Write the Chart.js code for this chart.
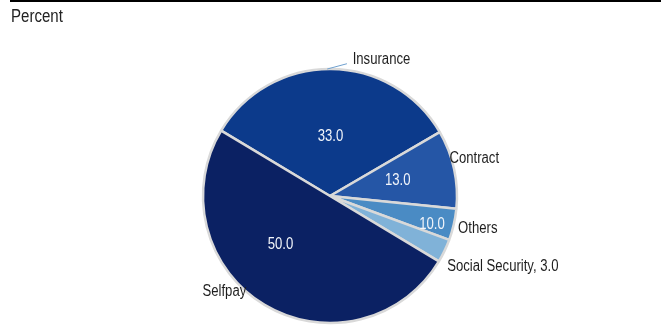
<!DOCTYPE html>
<html>
<head>
<meta charset="utf-8">
<script src="https://cdn.jsdelivr.net/npm/chart.js@4.4.1/dist/chart.umd.min.js"></script>
<style>
  html, body { margin: 0; padding: 0; background: #fff; }
  #wrap { position: relative; width: 661px; height: 327px; overflow: hidden; }
  #rule { position: absolute; left: 10px; top: 0; width: 651px; height: 0; border-top: 2.5px solid #000; }
  #unit { position: absolute; left: 11px; top: 6px; font: 17.5px "Liberation Sans", Arial, sans-serif; color: #222;
          transform: scaleX(0.86); transform-origin: 0 0; white-space: nowrap; }
  canvas { position: absolute; left: 0; top: 0; }
</style>
</head>
<body>
<div id="wrap">
  <canvas id="c" width="661" height="327"></canvas>
  <div id="rule"></div>
  <div id="unit">Percent</div>
</div>
<script>
// Categories in clockwise drawing order
const categories = ["Insurance", "Contract", "Others", "Social Security", "Selfpay"];
// Slice shares as measured from the slice angles in the picture
const sliceShares = [33, 10, 4, 3, 50];
// Values printed on the chart's data labels
const printedValues = [33.0, 13.0, 10.0, 3.0, 50.0];
const sliceColors = ["#0c3a8b", "#2556a6", "#4a8bc4", "#80b2d8", "#0b2163"];

// Label placement (fraction of slice angle, fraction of radius)
const innerPlace = [
  { f: 0.50, r: 0.48 },
  { f: 0.45, r: 0.55 },
  { f: 0.62, r: 0.83 },
  null,
  { f: 0.585, r: 0.54 }
];
const outerPlace = [
  { f: 0.576, r: 1.09, align: "left", text: (i) => categories[i] },
  { f: 0.36, r: 0.985, align: "left", text: (i) => categories[i] },
  { f: 0.58, r: 1.04, align: "left", text: (i) => categories[i] },
  { f: 0.99, r: 1.075, align: "left", text: (i) => categories[i] + ", " + printedValues[i].toFixed(1) },
  { f: 0.557, r: 1.0, align: "right", text: (i) => categories[i] }
];
const leader = { index: 0, from: { f: 0.486, r: 1.0 }, to: { f: 0.558, r: 1.05 } };

const FONT = '16px "Liberation Sans", Arial, sans-serif';
const SQUEEZE = 0.82;

function polar(arc, f, rf) {
  const a = arc.startAngle + f * (arc.endAngle - arc.startAngle);
  const r = arc.outerRadius * rf;
  return { x: arc.x + r * Math.cos(a), y: arc.y + r * Math.sin(a) };
}

function narrowText(ctx, text, x, y, align, color) {
  ctx.save();
  ctx.translate(x, y);
  ctx.scale(SQUEEZE, 1);
  ctx.font = FONT;
  ctx.fillStyle = color;
  ctx.textAlign = align;
  ctx.textBaseline = "middle";
  ctx.fillText(text, 0, 0);
  ctx.restore();
}

const labelPlugin = {
  id: "pieLabels",
  afterDatasetsDraw(chart) {
    const ctx = chart.ctx;
    const meta = chart.getDatasetMeta(0);
    meta.data.forEach((el, i) => {
      const arc = el.getProps(["x", "y", "startAngle", "endAngle", "outerRadius"], true);
      const ip = innerPlace[i];
      if (ip) {
        const p = polar(arc, ip.f, ip.r);
        narrowText(ctx, printedValues[i].toFixed(1), p.x, p.y + 1.5, "center", "#f2f5fa");
      }
      const op = outerPlace[i];
      if (op) {
        const p = polar(arc, op.f, op.r);
        narrowText(ctx, op.text(i), p.x, p.y, op.align, "#1e1e1e");
      }
      if (leader.index === i) {
        const a = polar(arc, leader.from.f, leader.from.r);
        const b = polar(arc, leader.to.f, leader.to.r);
        ctx.save();
        ctx.strokeStyle = "#6fa0cf";
        ctx.lineWidth = 1;
        ctx.beginPath();
        ctx.moveTo(a.x, a.y);
        ctx.lineTo(b.x, b.y);
        ctx.stroke();
        ctx.restore();
      }
    });
  }
};

new Chart(document.getElementById("c"), {
  type: "pie",
  data: {
    labels: categories,
    datasets: [{
      data: sliceShares,
      backgroundColor: sliceColors,
      borderColor: "#d9d9d9",
      borderWidth: 2.5
    }]
  },
  options: {
    responsive: false,
    animation: false,
    rotation: -59,
    radius: 127,
    layout: { padding: { left: 0, right: 1, top: 65, bottom: 0 } },
    plugins: {
      legend: { display: false },
      tooltip: { enabled: false },
      title: { display: false }
    }
  },
  plugins: [labelPlugin]
});
</script>
</body>
</html>
